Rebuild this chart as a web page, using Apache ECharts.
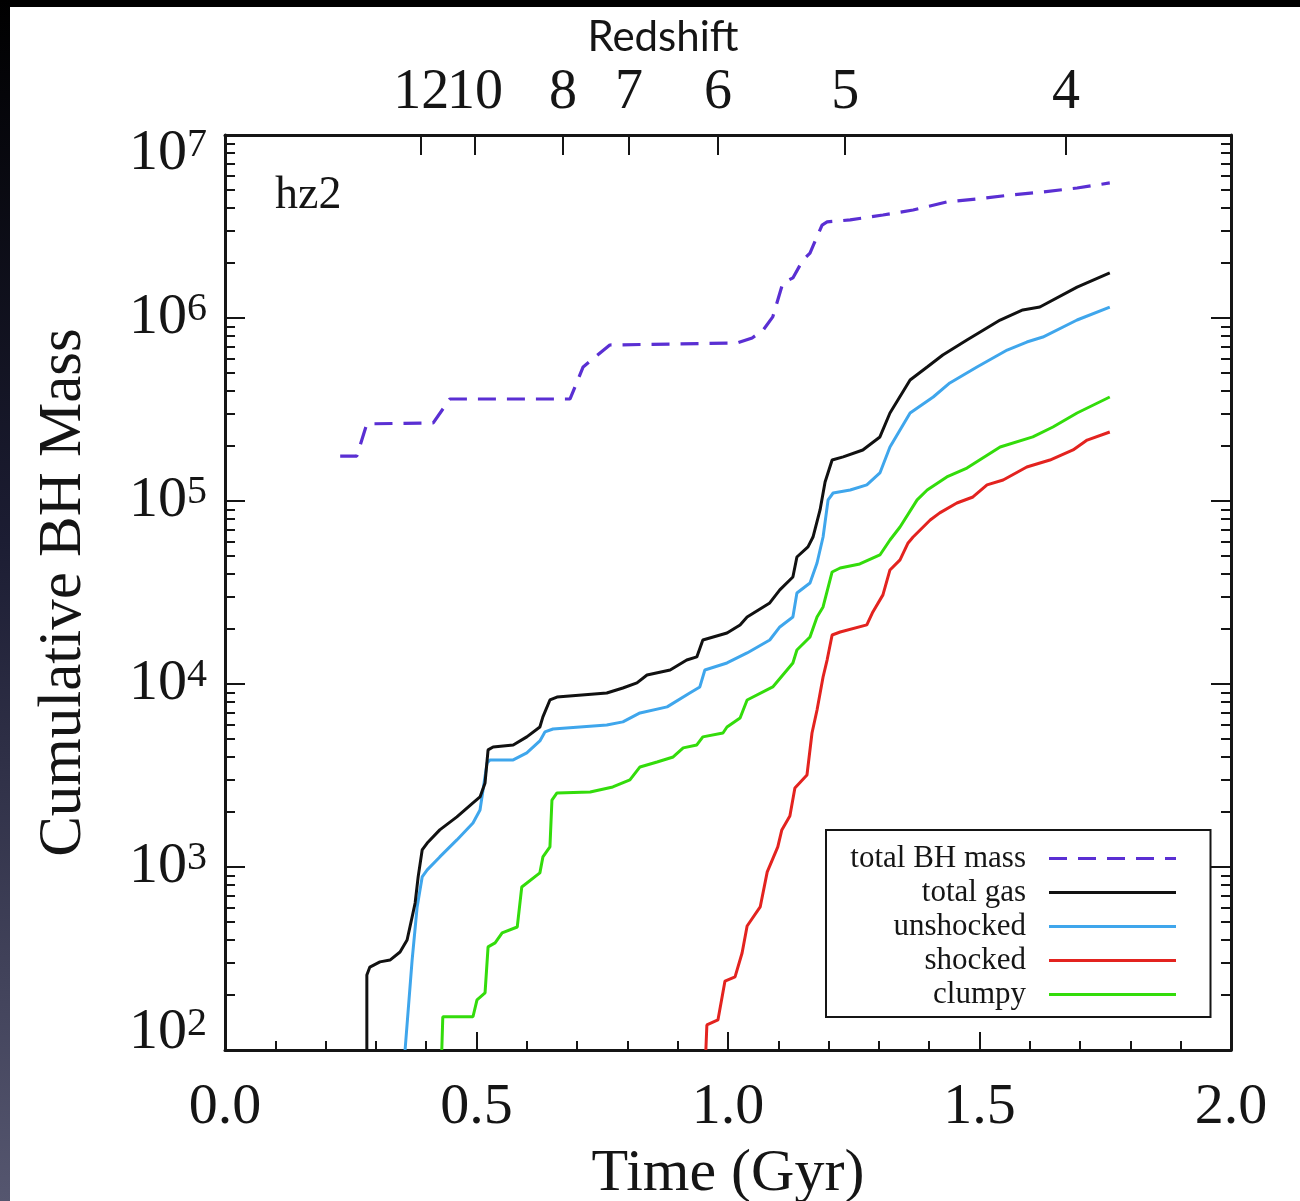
<!DOCTYPE html>
<html>
<head>
<meta charset="utf-8">
<script src="https://cdn.jsdelivr.net/npm/echarts@6/dist/echarts.min.js"></script>
<style>
  html, body { margin: 0; padding: 0; background: #fff; }
  #chart { width: 1300px; height: 1201px; }
</style>
</head>
<body>
<div id="chart"></div>
<script>
// ---------- data: [time (Gyr), cumulative BH mass] ----------
const totalBHMass = [
  [0.229,176000],[0.262,176000],[0.282,264000],[0.414,267000],[0.447,361000],[0.686,361000],
  [0.712,540000],[0.765,712000],[1.018,730000],[1.048,778000],[1.070,860000],[1.089,1014000],
  [1.109,1553000],[1.129,1656000],[1.149,2075000],[1.163,2265000],[1.187,3222000],[1.197,3350000],
  [1.243,3436000],[1.308,3655000],[1.368,3890000],[1.435,4305000],[1.495,4467000],[1.561,4699000],
  [1.626,4883000],[1.694,5134000],[1.759,5470000]
];
const totalGas = [
  [0.282,100],[0.282,257],[0.288,284],[0.308,303],[0.328,310],[0.348,343],[0.362,399],[0.372,533],
  [0.378,636],[0.384,883],[0.392,1240],[0.402,1352],[0.427,1595],[0.461,1878],[0.493,2239],[0.507,2415],
  [0.517,2878],[0.523,4365],[0.533,4529],[0.573,4645],[0.600,5140],[0.626,5821],[0.632,6607],[0.646,8180],
  [0.660,8490],[0.759,8935],[0.791,9510],[0.819,10140],[0.839,11200],[0.885,11930],[0.918,13520],
  [0.938,14060],[0.950,17400],[0.998,19000],[1.024,21030],[1.038,23230],[1.083,27730],[1.103,32660],
  [1.129,38460],[1.137,49430],[1.159,56100],[1.169,63550],[1.183,89300],[1.193,127000],[1.207,167500],
  [1.229,174200],[1.268,190000],[1.302,223900],[1.322,302700],[1.362,458500],[1.396,540000],
  [1.427,628000],[1.475,758000],[1.541,975000],[1.586,1106000],[1.620,1148000],[1.694,1476000],
  [1.759,1762000]
];
const unshocked = [
  [0.358,100],[0.372,310],[0.382,605],[0.392,883],[0.402,964],[0.427,1135],[0.461,1406],[0.493,1741],
  [0.507,2050],[0.521,3705],[0.527,3846],[0.573,3846],[0.600,4200],[0.626,4887],[0.636,5470],
  [0.652,5675],[0.759,5970],[0.791,6210],[0.825,6950],[0.879,7500],[0.924,8935],[0.944,9640],
  [0.954,11930],[0.998,13030],[1.038,14780],[1.083,17400],[1.103,20500],[1.129,23230],[1.137,31420],
  [1.163,35650],[1.177,45850],[1.189,63550],[1.199,101400],[1.209,110600],[1.243,114800],
  [1.276,122400],[1.302,142300],[1.322,197300],[1.362,302700],[1.408,370000],[1.441,441600],
  [1.495,540000],[1.555,668000],[1.594,739000],[1.626,787000],[1.694,975000],[1.759,1148000]
];
const shocked = [
  [0.956,100],[0.958,137],[0.980,146],[0.994,238],[1.014,251],[1.028,339],[1.038,476],[1.064,605],
  [1.078,940],[1.099,1288],[1.107,1595],[1.123,1900],[1.133,2704],[1.157,3184],[1.167,5400],
  [1.177,7210],[1.189,10920],[1.197,13520],[1.207,18530],[1.223,19230],[1.276,21030],[1.288,24770],
  [1.308,30690],[1.322,42000],[1.342,47640],[1.358,59000],[1.368,63550],[1.402,78700],[1.421,86100],
  [1.455,97500],[1.487,105200],[1.515,122400],[1.547,130300],[1.594,153500],[1.640,167500],
  [1.686,190000],[1.714,215300],[1.759,238300]
];
const clumpy = [
  [0.431,100],[0.433,152],[0.493,152],[0.501,188],[0.517,205],[0.523,366],[0.537,385],[0.551,437],
  [0.581,470],[0.590,778],[0.626,929],[0.632,1135],[0.646,1288],[0.650,2323],[0.660,2541],[0.726,2570],
  [0.771,2737],[0.805,2990],[0.825,3522],[0.859,3750],[0.891,3993],[0.911,4475],[0.938,4645],
  [0.950,5140],[0.990,5400],[0.998,5821],[1.024,6520],[1.038,8180],[1.089,9640],[1.129,13030],
  [1.137,15350],[1.163,18070],[1.177,23230],[1.189,26360],[1.207,40930],[1.223,43050],[1.262,45290],
  [1.302,50700],[1.322,61240],[1.342,72100],[1.376,101400],[1.396,114800],[1.435,135300],
  [1.475,151400],[1.541,197300],[1.606,223900],[1.646,253700],[1.694,302700],[1.759,370000]
];

// ---------- axes ----------
const timeTicks = [0.0, 0.5, 1.0, 1.5, 2.0];
const redshiftLabels = ['12', '10', '8', '7', '6', '5', '4'];
const redshiftTimes  = [0.390, 0.497, 0.672, 0.803, 0.980, 1.233, 1.672];
const massDecades = [2, 3, 4, 5, 6, 7];
const minorMantissas = [2, 3, 4, 5, 6, 7, 8, 9];

const seriesNames = ['total BH mass', 'total gas', 'unshocked', 'shocked', 'clumpy'];
const seriesColors = ['#5a2fd3', '#111111', '#3fa6ec', '#e3231f', '#33dc0b'];

const majorMassTicks = massDecades.map(function (d) { return Math.pow(10, d); });
const minorMassTicks = [];
massDecades.slice(0, -1).forEach(function (d) {
  minorMassTicks.push.apply(minorMassTicks, minorMantissas.map(function (m) { return m * Math.pow(10, d); }));
});
// split redshift labels over two top axes so neighbouring labels are never auto-hidden
const redshiftEven = redshiftTimes.filter(function (t, i) { return i % 2 === 0; });
const redshiftOdd  = redshiftTimes.filter(function (t, i) { return i % 2 === 1; });

const SERIF = 'Liberation Serif';
const INK = '#151515';

function yLabel(v) {
  const e = Math.round(Math.log10(v));
  if (e === massDecades[massDecades.length - 1]) return '{sp| }\n{n|10}{e|' + e + '}';
  if (e === massDecades[0]) return '{n|10}{e|' + e + '}\n{sp2| }';
  return '{n|10}{e|' + e + '}';
}

function redshiftFormatter(v) {
  let best = 0, bd = Infinity;
  redshiftTimes.forEach(function (t, i) { const d = Math.abs(t - v); if (d < bd) { bd = d; best = i; } });
  return redshiftLabels[best];
}

const chart = echarts.init(document.getElementById('chart'), null, { renderer: 'canvas' });

const axisLine = { show: true, onZero: false, lineStyle: { color: INK, width: 3 } };
const noLine = { show: false, onZero: false };

function massAxis(position, ticks, length, showLine) {
  return {
    type: 'log', logBase: 10, position: position, min: 100, max: 1e7,
    axisLine: showLine ? axisLine : noLine,
    axisTick: { show: true, inside: true, length: length, customValues: ticks, lineStyle: { color: INK, width: 2 } },
    splitLine: { show: false },
    axisLabel: { show: false }
  };
}

function redshiftAxis(values, showLine) {
  return {
    type: 'value', position: 'top', min: 0, max: 2,
    axisLine: showLine ? axisLine : noLine,
    axisTick: { show: true, inside: true, length: 20, customValues: values, lineStyle: { color: INK, width: 2 } },
    splitLine: { show: false },
    axisLabel: { show: true, customValues: values, margin: 14, color: INK, fontFamily: SERIF, fontSize: 56, lineHeight: 56,
      showMinLabel: true, showMaxLabel: true, hideOverlap: false, formatter: redshiftFormatter }
  };
}

const leftMain = massAxis('left', majorMassTicks, 20, true);
leftMain.axisLabel = {
  show: true, margin: 18, color: INK, formatter: yLabel, customValues: majorMassTicks,
  showMinLabel: true, showMaxLabel: true, hideOverlap: false,
  rich: {
    n: { fontFamily: SERIF, fontSize: 58, lineHeight: 58, color: INK },
    e: { fontFamily: SERIF, fontSize: 40, lineHeight: 22, verticalAlign: 'top', color: INK },
    sp: { fontSize: 10, lineHeight: 38 },
    sp2: { fontSize: 10, lineHeight: 34 }
  }
};
leftMain.name = 'Cumulative BH Mass';
leftMain.nameLocation = 'middle';
leftMain.nameGap = 131;
leftMain.nameTextStyle = { color: INK, fontFamily: SERIF, fontSize: 61, lineHeight: 61 };

const option = {
  backgroundColor: '#ffffff',
  animation: false,
  grid: { left: 225, right: 69, top: 135, bottom: 151, containLabel: false, outerBoundsMode: 'none' },
  graphic: [
    { type: 'rect', shape: { x: 0, y: 0, width: 1300, height: 7 }, style: { fill: '#000' }, z: 100 },
    { type: 'rect', shape: { x: 0, y: 0, width: 10, height: 1201 },
      style: { fill: { type: 'linear', x: 0, y: 0, x2: 0, y2: 1,
        colorStops: [{ offset: 0, color: '#000000' }, { offset: 0.45, color: '#1c1d33' }, { offset: 1, color: '#55566f' }] } }, z: 100 },
    { type: 'text', x: 663, y: 37, style: { text: 'Redshift', font: '42px Lato', fill: INK, textAlign: 'center', textVerticalAlign: 'middle' } },
    { type: 'text', x: 275, y: 196, style: { text: 'hz2', font: '46px "Liberation Serif"', fill: INK, textAlign: 'left', textVerticalAlign: 'middle' } }
  ],
  legend: {
    data: seriesNames,
    orient: 'vertical',
    left: 826,
    top: 830,
    align: 'right',
    backgroundColor: '#fff',
    borderColor: INK,
    borderWidth: 2,
    padding: [13, 33, 7, 10],
    itemGap: 3,
    itemWidth: 127,
    itemHeight: 14,
    selectedMode: false,
    itemStyle: { color: 'rgba(0,0,0,0)', borderColor: 'rgba(0,0,0,0)', borderWidth: 0 },
    lineStyle: { width: 3 },
    formatter: function (name) { return '{t|' + name + '}'; },
    textStyle: {
      color: INK,
      fontFamily: SERIF,
      fontSize: 31,
      rich: { t: { width: 190, align: 'right', padding: [0, 18, 0, 0], fontFamily: SERIF, fontSize: 31, lineHeight: 30, color: INK } }
    }
  },
  xAxis: [
    {
      type: 'value', position: 'bottom', min: 0, max: 2, interval: 0.5,
      axisLine: axisLine,
      axisTick: { show: true, inside: true, length: 18, lineStyle: { color: INK, width: 2 } },
      minorTick: { show: true, splitNumber: 5, length: 9, lineStyle: { color: INK, width: 2 } },
      splitLine: { show: false },
      axisLabel: { margin: 29, color: INK, fontFamily: SERIF, fontSize: 58, lineHeight: 58,
        showMinLabel: true, showMaxLabel: true,
        formatter: function (v) { return v.toFixed(1); } },
      name: 'Time (Gyr)', nameLocation: 'middle', nameGap: 94,
      nameTextStyle: { color: INK, fontFamily: SERIF, fontSize: 60, lineHeight: 60 }
    },
    redshiftAxis(redshiftEven, true),
    redshiftAxis(redshiftOdd, false)
  ],
  yAxis: [
    leftMain,
    massAxis('right', majorMassTicks, 20, true),
    massAxis('left', minorMassTicks, 10, false),
    massAxis('right', minorMassTicks, 10, false)
  ],
  series: [
    { name: seriesNames[0], data: totalBHMass, lineStyle: { type: [18, 11], width: 3.2 } },
    { name: seriesNames[1], data: totalGas },
    { name: seriesNames[2], data: unshocked },
    { name: seriesNames[3], data: shocked },
    { name: seriesNames[4], data: clumpy }
  ].map(function (s, i) {
    return {
      name: s.name, type: 'line', data: s.data, xAxisIndex: 0, yAxisIndex: 0,
      symbol: 'none', showSymbol: false, clip: true, z: 5 - i,
      color: seriesColors[i],
      lineStyle: Object.assign({ color: seriesColors[i], width: 3 }, s.lineStyle || {})
    };
  })
};

chart.setOption(option);
</script>
</body>
</html>
